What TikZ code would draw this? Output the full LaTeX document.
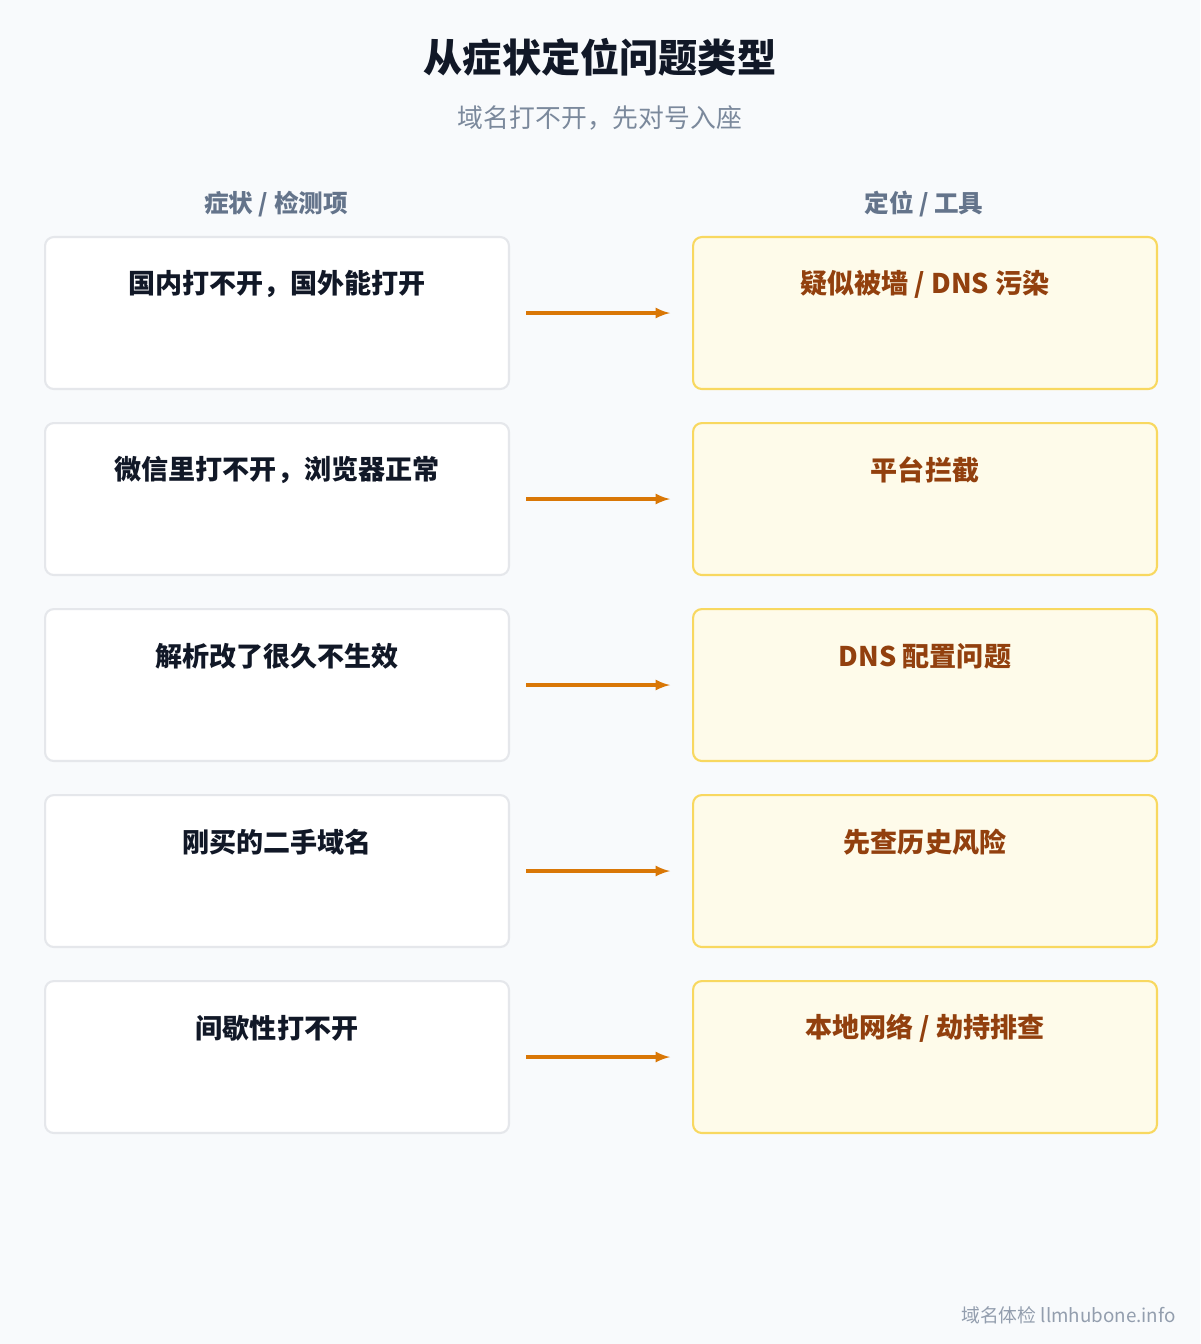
\documentclass[tikz,border=0pt]{standalone}
\usepackage{fontspec}
\setmainfont{Noto Sans CJK SC}
\usetikzlibrary{positioning}
\definecolor{bgcol}{HTML}{F8FAFC}
\definecolor{symline}{HTML}{E5E7EB}
\definecolor{locfill}{HTML}{FEFBEA}
\definecolor{locline}{HTML}{F8D860}
\definecolor{loctext}{HTML}{92400E}
\definecolor{arrcol}{HTML}{D97706}
\definecolor{headcol}{HTML}{64748B}
\definecolor{titlecol}{HTML}{111827}

\begin{document}
\begin{tikzpicture}[x=0.02cm,y=-0.02cm,
    symbox/.style={draw=symline, line width=1.2pt, fill=white, rounded corners=5pt,
        minimum width=9.28cm, minimum height=3.04cm, anchor=north west},
    locbox/.style={symbox, draw=locline, fill=locfill},
    boxtext/.style={font=\fontsize{15.4}{18}\selectfont\bfseries, anchor=center},
    arrow/.style={-latex, arrcol, line width=1.8pt},
    head/.style={font=\fontsize{14}{17}\selectfont\bfseries, text=headcol}]
    % Background
    \fill[bgcol] (0,0) rectangle (1200,1344);

    % Title and column heads
    \node[font=\fontsize{22.3}{26}\selectfont\bfseries, text=titlecol] (title) at (600,57) {从症状定位问题类型};
    \node[font=\fontsize{14.7}{17}\selectfont, text=headcol!85] (subtitle) at (600,118) {域名打不开，先对号入座};
    \node[head] (symhead) at (276,204) {症状 / 检测项};
    \node[head] (lochead) at (924,204) {定位 / 工具};

    % Rows
    \foreach \i/\sym/\loc in {0/国内打不开，国外能打开/{疑似被墙 / DNS 污染},
                              1/微信里打不开，浏览器正常/平台拦截,
                              2/解析改了很久不生效/DNS 配置问题,
                              3/刚买的二手域名/先查历史风险,
                              4/间歇性打不开/{本地网络 / 劫持排查}} {
        \node[symbox] (sym\i) at (44,236+186*\i) {};
        \node[locbox] (loc\i) at (692,236+186*\i) {};
        \node[boxtext, text=titlecol] at ([yshift=-0.96cm]sym\i.north) {\sym};
        \node[boxtext, text=loctext] at ([yshift=-0.96cm]loc\i.north) {\loc};
        \draw[arrow] ([xshift=0.32cm]sym\i.east) -- ([xshift=-0.44cm]loc\i.west);
    }

    % Footer
    \node[font=\fontsize{10.7}{13}\selectfont, text=headcol!70, anchor=east, inner sep=0pt] (footer) at (1176,1315) {域名体检 llmhubone.info};
\end{tikzpicture}
\end{document}
